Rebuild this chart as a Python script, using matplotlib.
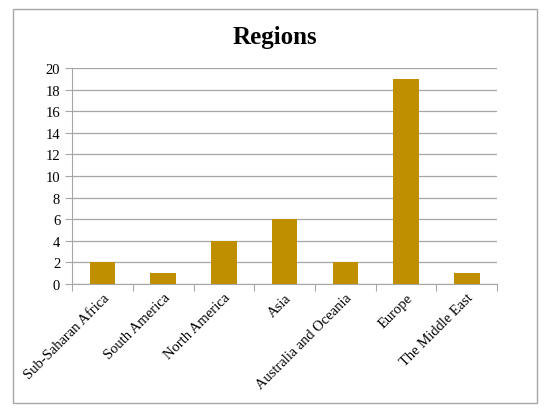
import matplotlib.pyplot as plt
import numpy as np
from matplotlib.patches import Rectangle

# Data
regions = ['Sub-Saharan Africa', 'South America', 'North America', 'Asia',
           'Australia and Oceania', 'Europe', 'The Middle East']
counts = [2, 1, 4, 6, 2, 19, 1]

plt.rcParams['font.family'] = ['Liberation Serif', 'DejaVu Serif']

fig = plt.figure(figsize=(5.5, 4.14), dpi=100)
ax = fig.add_axes([0.131, 0.312, 0.773, 0.521])

# outer chart border
fig.patches.append(Rectangle((13 / 550, 1 - 404 / 414), 524 / 550, 394 / 414,
                             transform=fig.transFigure, fill=False,
                             edgecolor='#a6a6a6', linewidth=1))

x = np.arange(len(regions))
ax.bar(x, counts, width=0.42, color='#BF8F00', zorder=3)

ax.set_xlim(-0.5, len(regions) - 0.5)
ax.set_ylim(0, 20)
ax.set_yticks(range(0, 21, 2))
ax.grid(axis='y', color='#a6a6a6', linewidth=0.9, zorder=0)

# category labels between boundary ticks
ax.set_xticks(np.arange(-0.5, len(regions), 1))
ax.set_xticklabels([])
ax.set_xticks(x, minor=True)
ax.set_xticklabels(regions, minor=True, rotation=45, ha='right',
                   rotation_mode='anchor', fontsize=10.5)
ax.tick_params(axis='x', which='minor', length=0, pad=5)
ax.tick_params(axis='x', which='major', length=5, color='#a6a6a6')
ax.tick_params(axis='y', length=5, color='#a6a6a6', labelsize=10.5)

for s in ['top', 'right']:
    ax.spines[s].set_visible(False)
for s in ['left', 'bottom']:
    ax.spines[s].set_color('#a6a6a6')

fig.text(0.5, 0.91, 'Regions', ha='center', va='center',
         fontsize=18, fontweight='bold')

fig.savefig('out.png', dpi=100)
